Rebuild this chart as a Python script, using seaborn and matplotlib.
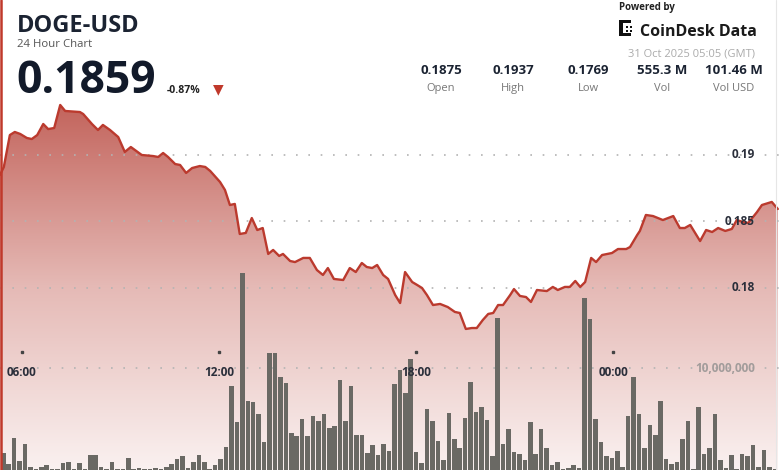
import numpy as np
import matplotlib
matplotlib.use("Agg")
import matplotlib.pyplot as plt
import matplotlib.transforms as mtransforms
from matplotlib.patches import PathPatch, Rectangle
from matplotlib.lines import Line2D
from matplotlib.colors import LinearSegmentedColormap
import seaborn as sns

# price samples: minutes after 05:20 (30 Oct) and DOGE-USD price
minutes = [0, 7, 18, 27, 37, 49, 58, 68, 79, 88, 99, 110, 119, 146, 152, 168, 179, 188,
           201, 216, 228, 239, 259, 280, 289, 298, 307, 320, 329, 340, 351, 365, 375, 384,
           402, 411, 420, 429, 438, 449, 460, 470, 480, 490, 499, 510, 517, 530, 539, 554,
           566, 579, 590, 599, 610, 627, 639, 650, 661, 670, 680, 689, 700, 709, 722, 731,
           740, 753, 762, 771, 780, 791, 804, 818, 831, 840, 851, 862, 871, 882, 892, 901,
           910, 919, 932, 939, 950, 961, 970, 981, 999, 1010, 1019, 1032, 1041, 1051, 1060,
           1069, 1080, 1089, 1100, 1118, 1129, 1144, 1151, 1164, 1169, 1180, 1193, 1211,
           1230, 1242, 1251, 1261, 1279, 1290, 1301, 1312, 1325, 1337, 1346, 1357, 1367,
           1383, 1392, 1410, 1421]
price = [0.18850, 0.18910, 0.19150, 0.19173, 0.19158, 0.19128, 0.19120, 0.19150, 0.19233,
         0.19195, 0.19203, 0.19376, 0.19331, 0.19323, 0.19308, 0.19233, 0.19188, 0.19226,
         0.19188, 0.19135, 0.19023, 0.19060, 0.19000, 0.18992, 0.18985, 0.19015, 0.18985,
         0.18932, 0.18925, 0.18865, 0.18902, 0.18917, 0.18910, 0.18880, 0.18797, 0.18737,
         0.18624, 0.18632, 0.18406, 0.18414, 0.18526, 0.18436, 0.18451, 0.18256, 0.18286,
         0.18241, 0.18256, 0.18203, 0.18195, 0.18226, 0.18226, 0.18135, 0.18098, 0.18150,
         0.18068, 0.18060, 0.18150, 0.18120, 0.18188, 0.18158, 0.18150, 0.18173, 0.18098,
         0.18068, 0.17947, 0.17887, 0.18120, 0.18045, 0.18023, 0.18000, 0.17947, 0.17872,
         0.17880, 0.17857, 0.17820, 0.17812, 0.17692, 0.17699, 0.17699, 0.17759, 0.17805,
         0.17812, 0.17872, 0.17872, 0.17947, 0.17992, 0.17940, 0.17932, 0.17895, 0.17985,
         0.17977, 0.18008, 0.17985, 0.18008, 0.18008, 0.18053, 0.18008, 0.18045, 0.18226,
         0.18195, 0.18248, 0.18263, 0.18293, 0.18293, 0.18308, 0.18398, 0.18429, 0.18549,
         0.18541, 0.18511, 0.18541, 0.18451, 0.18451, 0.18474, 0.18353, 0.18436, 0.18421,
         0.18451, 0.18429, 0.18444, 0.18511, 0.18496, 0.18489, 0.18571, 0.18624, 0.18647,
         0.18594]

# 10-minute volume bars, millions of DOGE
volume_m = [2.5, 1.5, 3.8, 1.8, 3.3, 1.3, 1.1, 1.3, 1.4, 1.1, 1.1, 1.6, 1.7, 1.1, 1.6, 1.1,
            2.3, 2.3, 1.3, 1.1, 1.7, 1.1, 1.1, 2.1, 1.1, 1.2, 1.1, 1.1, 1.2, 1.1, 1.3, 1.5,
            2.0, 2.2, 1.2, 1.7, 2.3, 1.7, 1.1, 1.4, 2.0, 3.0, 8.4, 5.2, 18.4, 7.1, 7.0, 5.9,
            3.5, 11.3, 11.3, 9.2, 8.7, 4.3, 4.0, 5.5, 4.0, 5.8, 5.3, 5.9, 4.7, 4.9, 8.9, 5.3,
            8.4, 4.1, 4.1, 2.5, 3.2, 2.3, 3.3, 2.7, 8.6, 9.8, 7.8, 10.8, 2.6, 1.6, 6.4, 5.3,
            3.6, 1.9, 6.0, 3.7, 2.9, 5.6, 8.8, 6.1, 6.6, 5.4, 2.2, 14.4, 3.3, 4.6, 2.6, 2.4,
            1.9, 5.2, 2.4, 4.6, 2.9, 1.4, 1.7, 1.1, 1.2, 1.4, 1.2, 16.2, 14.3, 5.5, 3.5, 2.2,
            2.1, 2.7, 1.3, 5.8, 9.2, 5.9, 2.9, 5.0, 4.1, 7.1, 2.0, 1.5, 1.7, 3.7, 5.3, 1.1,
            6.6, 2.4, 2.9, 5.9, 1.9, 1.2, 2.3, 1.1, 2.4, 2.2, 3.2, 1.3, 2.8, 1.3, 1.1]

price_ticks = [0.19, 0.185, 0.18]
price_tick_labels = ["0.19", "0.185", "0.18"]
time_tick_hours = [6, 12, 18, 24]
time_tick_labels = ["06:00", "12:00", "18:00", "00:00"]
stat_values = ["0.1875", "0.1937", "0.1769", "555.3 M", "101.46 M"]
stat_names = ["Open", "High", "Low", "Vol", "Vol USD"]

W, H = 780, 470
sns.set_style("white")
plt.rcParams['font.family'] = ['Open Sans', 'DejaVu Sans']

fig = plt.figure(figsize=(W / 100, H / 100), dpi=100)
fig.patch.set_facecolor("white")


def fx(px):
    return px / W


def fy(py):
    return 1 - py / H


top_px = 100
rect = [0, 0, 1, (H - top_px) / H]
span_min = 1425
y_lo, y_hi = 0.166316, 0.194135

# price panel: gradient area + line
ax = fig.add_axes(rect)
ax.set_axis_off()
cmap = LinearSegmentedColormap.from_list("fill", ["#faf1f0", "#e5b9b5", "#c2625a"])
grad = np.linspace(0, 1, 256).reshape(-1, 1)
im = ax.imshow(grad, cmap=cmap, extent=[0, span_min, y_lo, y_hi], origin="lower",
               aspect="auto", zorder=1)
poly = ax.fill_between(minutes, price, y_lo, color="none")
clip = PathPatch(poly.get_paths()[0], transform=ax.transData, facecolor="none", edgecolor="none")
ax.add_patch(clip)
im.set_clip_path(clip)

for v in price_ticks:
    ax.axhline(v, color="#b3b3b3", lw=1.2, ls=(0, (1, 6.4)), zorder=2)

sns.lineplot(x=minutes, y=price, ax=ax, color="#bb3a2e", linewidth=1.7, zorder=4)
ax.set_xlim(0, span_min)
ax.set_ylim(y_lo, y_hi)
ax.set_axis_off()

# volume panel on top
axv = fig.add_axes(rect)
axv.set_axis_off()
axv.patch.set_visible(False)
axv.axhline(10e6, color="#b3b3b3", lw=1.2, ls=(0, (1, 6.4)), zorder=1)
axv.bar(np.arange(len(volume_m)), np.array(volume_m) * 1e6, width=0.84,
        color="#6a6964", linewidth=0, zorder=3)
axv.set_xlim(-0.607, 142.96)
axv.set_ylim(1e6, 1e6 + 370 / 11.33 * 1e6)

ptrans = mtransforms.blended_transform_factory(axv.transAxes, ax.transData)
for v, lab in zip(price_ticks, price_tick_labels):
    axv.text(fx(755), v, lab, transform=ptrans, ha="right", va="center",
             fontsize=8.5, fontweight="bold", color="#2b2f3b", zorder=6)
vtrans = mtransforms.blended_transform_factory(axv.transAxes, axv.transData)
axv.text(fx(755), 10e6, "10,000,000", transform=vtrans, ha="right", va="center",
         fontsize=8.5, fontweight="bold", color="#a29c9b", zorder=6)

ttrans = mtransforms.blended_transform_factory(ax.transData, axv.transAxes)
tick_min = [(h - 6) * 60 + 40 for h in time_tick_hours]
for t, lab in zip(tick_min, time_tick_labels):
    axv.plot([t], [(470 - 352) / 370], marker="s", ms=1.6, color="#444444",
             transform=ttrans, zorder=6, clip_on=False)
    axv.text(t, (470 - 372) / 370, lab, transform=ttrans, ha="center", va="center",
             fontsize=8.5, fontweight="bold", color="#2b2f3b", zorder=6)

# header
dark = "#1b2332"
fig.text(fx(17), fy(32), "DOGE-USD", fontsize=17, fontweight="bold", color=dark, va="baseline")
fig.text(fx(17), fy(47), "24 Hour Chart", fontsize=8.2, color="#555555", va="baseline")
fig.text(fx(16), fy(93), "0.1859", fontsize=32, fontweight="bold", color="#121a2a", va="baseline")
fig.text(fx(167), fy(93), "-0.87%", fontsize=7.5, fontweight="bold", color="#222222", va="baseline")
fig.text(fx(213), fy(93), "▼", fontsize=10, color="#c0392b", va="baseline",
         family=["DejaVu Sans"])

fig.text(fx(619), fy(10), "Powered by", fontsize=7, fontweight="bold", color="#222222", va="baseline")
fig.text(fx(640), fy(36), "CoinDesk Data", fontsize=11.5, fontweight="bold", color="#1a1a1a",
         va="baseline")
fig.text(fx(755), fy(57), "31 Oct 2025 05:05 (GMT)", fontsize=8, color="#ababab",
         va="baseline", ha="right")

# logo glyph
for (x0, y0, w, h) in [(619, 20, 4, 16), (619, 20, 12, 3), (619, 33, 12, 3),
                       (626, 26, 2, 2), (630, 26, 2, 2), (626, 30, 2, 2), (630, 30, 2, 2)]:
    fig.patches.append(Rectangle((fx(x0), fy(y0 + h)), w / W, h / H, transform=fig.transFigure,
                                 facecolor="#111111", edgecolor="none"))

stat_x = [441, 513, 588, 662, 734]
for cx, val, name in zip(stat_x, stat_values, stat_names):
    fig.text(fx(cx), fy(74), val, fontsize=9.5, fontweight="bold", color="#1b2332",
             ha="center", va="baseline")
    fig.text(fx(cx), fy(91), name, fontsize=8, color="#777777", ha="center", va="baseline")

# frame edges
fig.add_artist(Line2D([fx(1), fx(1)], [0, 1], color="#c0392b", lw=1.8, transform=fig.transFigure))
fig.add_artist(Line2D([fx(775.5), fx(775.5)], [0, 1], color="#e6e6e6", lw=0.8,
                      transform=fig.transFigure))

fig.savefig("out.png", dpi=100, facecolor="white")
